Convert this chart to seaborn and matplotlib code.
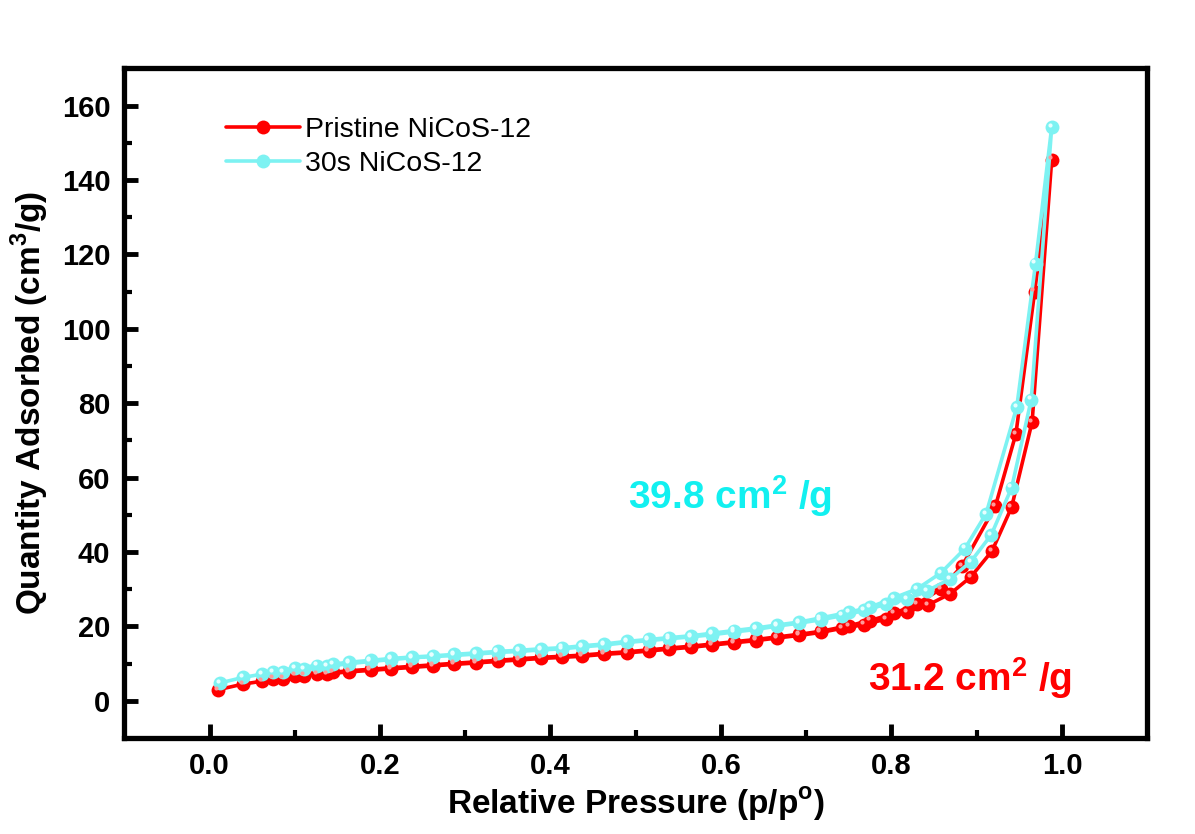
import numpy as np
import pandas as pd
import matplotlib
matplotlib.use("Agg")
import matplotlib.pyplot as plt
import matplotlib.transforms as mtransforms
from matplotlib.ticker import FixedLocator, FormatStrFormatter
import seaborn as sns

# ---- data ----
red_ads_x = [0.010, 0.039, 0.062, 0.086, 0.111, 0.138, 0.164, 0.189, 0.213, 0.238,
             0.262, 0.287, 0.313, 0.338, 0.363, 0.389, 0.414, 0.437, 0.463, 0.490,
             0.515, 0.539, 0.565, 0.590, 0.615, 0.641, 0.666, 0.692, 0.717, 0.742,
             0.768, 0.794, 0.818, 0.843, 0.869, 0.893, 0.918, 0.941, 0.965, 0.988]
red_ads_y = [3.0, 4.5, 5.3, 6.0, 6.8, 7.3, 7.8, 8.2, 8.6, 9.0,
             9.4, 9.8, 10.2, 10.6, 11.0, 11.4, 11.7, 12.0, 12.5, 12.9,
             13.4, 13.9, 14.4, 15.0, 15.6, 16.2, 16.9, 17.6, 18.4, 19.5,
             20.5, 22.0, 23.9, 25.8, 28.8, 33.3, 40.3, 52.1, 75.0, 145.5]
red_des_x = [0.968, 0.946, 0.922, 0.883, 0.858, 0.830, 0.803, 0.775, 0.750,
             0.717, 0.692, 0.666, 0.641, 0.615, 0.590, 0.565, 0.539, 0.515, 0.490,
             0.463, 0.437, 0.414, 0.389, 0.363, 0.338, 0.313, 0.287, 0.262, 0.238,
             0.213, 0.189, 0.164, 0.145, 0.126, 0.100, 0.075]
red_des_y = [110.0, 71.8, 52.4, 36.3, 30.1, 26.1, 23.5, 21.6, 20.2,
             18.7, 17.9, 17.2, 16.5, 15.9, 15.3, 14.7, 14.2, 13.7, 13.2,
             12.8, 12.3, 12.0, 11.7, 11.3, 10.9, 10.5, 10.1, 9.7, 9.3,
             8.9, 8.5, 8.1, 7.7, 7.3, 6.8, 6.0]

cyan_ads_x = [0.012, 0.039, 0.062, 0.086, 0.111, 0.138, 0.164, 0.189, 0.213, 0.238,
              0.262, 0.287, 0.313, 0.338, 0.363, 0.389, 0.414, 0.437, 0.463, 0.490,
              0.515, 0.539, 0.565, 0.590, 0.615, 0.641, 0.666, 0.692, 0.717, 0.742,
              0.768, 0.794, 0.818, 0.842, 0.869, 0.893, 0.917, 0.941, 0.964, 0.988]
cyan_ads_y = [4.8, 6.3, 7.2, 7.8, 8.6, 9.3, 10.0, 10.6, 11.1, 11.6,
              11.9, 12.2, 12.6, 13.0, 13.3, 13.7, 14.0, 14.5, 15.0, 15.7,
              16.2, 16.7, 17.2, 17.8, 18.5, 19.2, 20.1, 20.9, 21.8, 22.9,
              24.3, 26.0, 27.4, 29.6, 32.8, 37.4, 44.6, 57.3, 81.0, 154.3]
cyan_des_x = [0.969, 0.947, 0.911, 0.886, 0.858, 0.830, 0.803, 0.775, 0.750,
              0.717, 0.692, 0.666, 0.641, 0.615, 0.590, 0.565, 0.539, 0.515, 0.490,
              0.463, 0.437, 0.414, 0.389, 0.363, 0.338, 0.313, 0.287, 0.262, 0.238,
              0.213, 0.189, 0.164, 0.145, 0.126, 0.100, 0.075]
cyan_des_y = [117.5, 79.0, 50.3, 40.9, 34.4, 30.1, 27.7, 25.2, 23.8,
              22.3, 21.2, 20.4, 19.6, 18.9, 18.2, 17.5, 17.0, 16.5, 16.0,
              15.3, 14.8, 14.3, 14.0, 13.6, 13.3, 12.9, 12.5, 12.1, 11.8,
              11.4, 10.9, 10.4, 9.9, 9.5, 8.8, 7.8]

series_names = ["Pristine NiCoS-12", "30s NiCoS-12"]
series_colors = ["#FF0000", "#7DF2F2"]
highlight_colors = ["#FF9A9A", "#E8FFFF"]
annot_texts = [r"31.2 cm$^{\mathregular{2}}$ /g", r"39.8 cm$^{\mathregular{2}}$ /g"]
annot_colors = ["#FF0000", "#12F0F0"]

x_ticks = [0.0, 0.2, 0.4, 0.6, 0.8, 1.0]
x_minor = [0.1, 0.3, 0.5, 0.7, 0.9]
y_ticks = [0, 20, 40, 60, 80, 100, 120, 140, 160]
y_minor = [10, 30, 50, 70, 90, 110, 130, 150]

sns.set_theme(style="ticks")
plt.rcParams['font.family'] = ['Liberation Sans', 'DejaVu Sans']
plt.rcParams['font.weight'] = 'bold'
plt.rcParams['mathtext.fontset'] = 'custom'
plt.rcParams['mathtext.rm'] = 'Liberation Sans:bold'
plt.rcParams['mathtext.bf'] = 'Liberation Sans:bold'
plt.rcParams['text.color'] = 'black'
plt.rcParams['axes.labelcolor'] = 'black'

frames = []
for name, ax_, ay_, dx_, dy_ in [
    (series_names[0], red_ads_x, red_ads_y, red_des_x, red_des_y),
    (series_names[1], cyan_ads_x, cyan_ads_y, cyan_des_x, cyan_des_y),
]:
    xs = list(ax_) + list(dx_)
    ys = list(ay_) + list(dy_)
    frames.append(pd.DataFrame({"p": xs, "q": ys, "series": name,
                                "order": range(len(xs))}))
df = pd.concat(frames, ignore_index=True)

FIG_W, FIG_H, DPI = 11.95, 8.34, 100
AX_RECT = [0.104, 0.115, 0.856, 0.803]
fig = plt.figure(figsize=(FIG_W, FIG_H), dpi=DPI)
ax = fig.add_axes(AX_RECT)

for i, name in enumerate(series_names):
    sub = df[df["series"] == name]
    sns.lineplot(data=sub, x="p", y="q", sort=False, ax=ax, color=series_colors[i],
                 linewidth=2.6, marker="o", markersize=10, markeredgewidth=0,
                 label=name, estimator=None)

ax.set_xlim(-0.1, 1.1)
ax.set_ylim(-10, 170)

# small specular highlights on the sphere-like markers
for i, name in enumerate(series_names):
    sub = df[df["series"] == name]
    hl = mtransforms.offset_copy(ax.transData, fig=fig, x=-1.6, y=1.6, units="points")
    ax.plot(sub["p"].to_numpy(), sub["q"].to_numpy(), linestyle="none", marker="o",
            markersize=3, color=highlight_colors[i], markeredgewidth=0,
            transform=hl, zorder=5)

ax.xaxis.set_major_locator(FixedLocator(x_ticks))
ax.yaxis.set_major_locator(FixedLocator(y_ticks))
ax.xaxis.set_minor_locator(FixedLocator(x_minor))
ax.yaxis.set_minor_locator(FixedLocator(y_minor))
ax.xaxis.set_major_formatter(FormatStrFormatter("%.1f"))
ax.yaxis.set_major_formatter(FormatStrFormatter("%d"))
for sp in ax.spines.values():
    sp.set_linewidth(3.8)
    sp.set_color("black")

ax.set_xlabel(r"Relative Pressure (p/p$^{\mathregular{o}}$)", fontsize=24,
              fontweight="bold", labelpad=4)
ax.set_ylabel(r"Quantity Adsorbed (cm$^{\mathregular{3}}$/g)", fontsize=24,
              fontweight="bold", labelpad=8)

ax.text(0.892, 6.0, annot_texts[0], color=annot_colors[0], fontsize=28,
        fontweight="bold", ha="center", va="center")
ax.text(0.611, 55.0, annot_texts[1], color=annot_colors[1], fontsize=28,
        fontweight="bold", ha="center", va="center")

ax.legend(loc="upper left", bbox_to_anchor=(0.088, 0.945), frameon=False,
          prop={"family": "Liberation Sans", "weight": "normal", "size": 20.5},
          handlelength=2.6, handletextpad=0.2, labelspacing=0.3,
          borderaxespad=0, labelcolor="black")

MAJ_LEN, MAJ_W, MIN_LEN, MIN_W = 10, 3.5, 6, 3
ax.tick_params(axis="both", which="major", direction="in", length=MAJ_LEN, width=MAJ_W,
               bottom=True, left=True, top=False, right=False, color="black",
               labelsize=21, pad=10, labelcolor="black")
ax.tick_params(axis="both", which="minor", direction="in", length=MIN_LEN, width=MIN_W,
               bottom=True, left=True, top=False, right=False, color="black")
ax.set_axisbelow(False)


# ---- verify that tick marks really render; redraw them as axis-anchored
# ---- segments if the renderer dropped them
def tick_rendered(axis_name, value, depth_px):
    fig.canvas.draw()
    img = np.asarray(fig.canvas.buffer_rgba())
    h = img.shape[0]
    if axis_name == "x":
        px, py = ax.transData.transform((value, ax.get_ylim()[0]))
        py += depth_px
    else:
        px, py = ax.transData.transform((ax.get_xlim()[0], value))
        px += depth_px
    r, c = int(round(h - py)), int(round(px))
    patch = img[r - 1:r + 2, c - 1:c + 2, :3].astype(float)
    return patch.mean() < 120


ax_h_px = AX_RECT[3] * FIG_H * DPI
ax_w_px = AX_RECT[2] * FIG_W * DPI
pt = DPI / 72.0
need = {
    ("x", "major"): not tick_rendered("x", x_ticks[2], 9),
    ("x", "minor"): not tick_rendered("x", x_minor[2], 6),
    ("y", "major"): not tick_rendered("y", y_ticks[5], 9),
    ("y", "minor"): not tick_rendered("y", y_minor[4], 6),
}
if need[("x", "major")]:
    ax.vlines(x_ticks, 0, MAJ_LEN * pt / ax_h_px, transform=ax.get_xaxis_transform(),
              colors="black", linewidth=MAJ_W, clip_on=False, zorder=6,
              capstyle="butt")
if need[("x", "minor")]:
    ax.vlines(x_minor, 0, MIN_LEN * pt / ax_h_px, transform=ax.get_xaxis_transform(),
              colors="black", linewidth=MIN_W, clip_on=False, zorder=6,
              capstyle="butt")
if need[("y", "major")]:
    ax.hlines(y_ticks, 0, MAJ_LEN * pt / ax_w_px, transform=ax.get_yaxis_transform(),
              colors="black", linewidth=MAJ_W, clip_on=False, zorder=6,
              capstyle="butt")
if need[("y", "minor")]:
    ax.hlines(y_minor, 0, MIN_LEN * pt / ax_w_px, transform=ax.get_yaxis_transform(),
              colors="black", linewidth=MIN_W, clip_on=False, zorder=6,
              capstyle="butt")

fig.savefig("out.png", dpi=DPI, facecolor="white")
